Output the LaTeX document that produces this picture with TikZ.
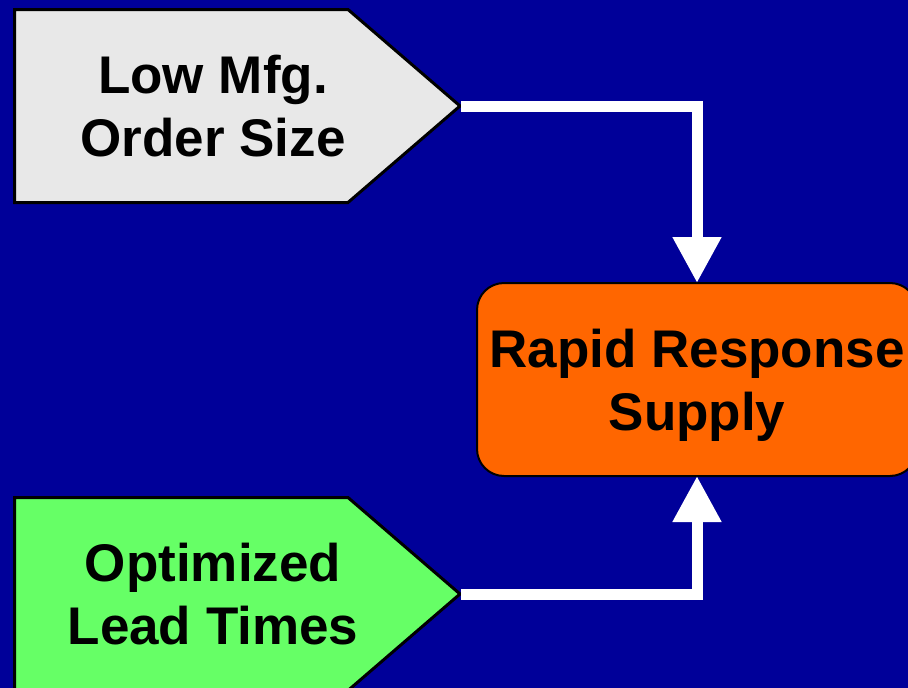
\documentclass[tikz,border=0pt]{standalone}
\usepackage{fontspec}
\setmainfont{Liberation Sans}
\usetikzlibrary{arrows.meta}
\definecolor{bgblue}{HTML}{000099}
\definecolor{boxgray}{HTML}{E8E8E8}
\definecolor{boxgreen}{HTML}{66FF66}
\definecolor{boxorange}{HTML}{FF6600}
\begin{document}
\begin{tikzpicture}[x=1pt,y=-1pt,
  lbl/.style={font=\bfseries\fontsize{53}{63}\selectfont, align=center, text=black, inner sep=0pt},
  pent/.style={draw=black, line width=3pt, line join=miter},
  goalbox/.style={draw=black, line width=2pt, fill=boxorange, rounded corners=27pt,
    minimum width=440pt, minimum height=193pt, outer sep=0pt, inner sep=0pt},
  flow/.style={draw=white, line width=11pt, line join=miter, -{Triangle[width=46pt,length=46pt]}}]
\useasboundingbox (0,0) rectangle (908,688);
\fill[bgblue] (0,0) rectangle (908,688);
\begin{scope}
\clip (0,0) rectangle (908,688);
% top pentagon
\draw[pent, fill=boxgray] (14.5,9.5) -- (348,9.5) -- (460,106) -- (348,202.5) -- (14.5,202.5) -- cycle;
\coordinate (tipA) at (461,106);
\node[lbl] (low) at (213,106) {Low Mfg.\\Order Size};
% bottom pentagon
\draw[pent, fill=boxgreen] (14.5,497.5) -- (348,497.5) -- (460,594) -- (348,690.5) -- (14.5,690.5) -- cycle;
\coordinate (tipB) at (461,594);
\node[lbl] (opt) at (213,594.5) {Optimized\\Lead Times};
% goal box
\node[goalbox] (rrs) at (697,379.5) {};
\node[lbl] (rrstext) at (697,385) {Rapid Response\\Supply};
% connectors
\draw[flow] (tipA) -| (rrs.north);
\draw[flow] (tipB) -| (rrs.south);
\end{scope}
\end{tikzpicture}
\end{document}
